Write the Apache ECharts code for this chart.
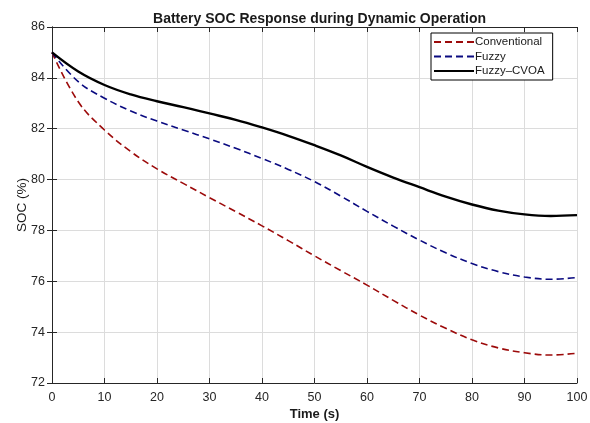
<!DOCTYPE html>
<html>
<head>
<meta charset="utf-8">
<script src="https://cdn.jsdelivr.net/npm/echarts@6/dist/echarts.min.js"></script>
<style>
  html, body { margin: 0; padding: 0; background: #fff; }
  #chart { width: 590px; height: 423px; }
</style>
</head>
<body>
<div id="chart"></div>
<script>
// Time samples (s)
const timeSec = [0, 5, 10, 15, 20, 25, 30, 35, 40, 45, 50, 55, 60, 65, 70, 75, 80, 85, 90, 95, 100];

// Battery state of charge (%) for each controller
const socConventional = [85, 83.06, 81.95, 81.1, 80.42, 79.85, 79.29, 78.74, 78.18, 77.6, 77.0, 76.42, 75.85, 75.25, 74.67, 74.15, 73.7, 73.38, 73.19, 73.1, 73.17];
const socFuzzy        = [85, 83.85, 83.2, 82.7, 82.3, 81.95, 81.6, 81.23, 80.83, 80.4, 79.92, 79.35, 78.75, 78.17, 77.62, 77.12, 76.7, 76.38, 76.17, 76.08, 76.15];
const socFuzzyCVOA    = [85, 84.25, 83.72, 83.35, 83.08, 82.85, 82.6, 82.35, 82.05, 81.72, 81.35, 80.95, 80.5, 80.08, 79.7, 79.33, 79.02, 78.78, 78.63, 78.57, 78.6];

// Axis ranges and tick spacing
const xMin = 0, xMax = 100, xStep = 10;
const yMin = 72, yMax = 86, yStep = 2;

const seriesNames = ['Conventional', 'Fuzzy', 'Fuzzy\u2013CVOA'];

const pairs = (ys) => timeSec.map((t, i) => [t, ys[i]]);

const axisColor = '#262626';
const gridColor = '#dcdcdc';
const font = 'Liberation Sans, Arial, Helvetica, sans-serif';

const chart = echarts.init(document.getElementById('chart'), null, { renderer: 'canvas' });

const boxAxis = {
  axisLine: { show: true, lineStyle: { color: axisColor, width: 1 } },
  axisTick: { show: true, inside: true, length: 5, lineStyle: { color: axisColor } },
  axisLabel: { show: false },
  splitLine: { show: false }
};

chart.setOption({
  animation: false,
  backgroundColor: '#fff',
  title: {
    text: 'Battery SOC Response during Dynamic Operation',
    left: 314.5,
    textAlign: 'center',
    top: 7,
    textStyle: { fontFamily: font, fontSize: 14, fontWeight: 'bold', color: '#1a1a1a' }
  },
  legend: {
    data: seriesNames,
    orient: 'vertical',
    left: 431,
    top: 33,
    width: 117,
    itemWidth: 40,
    itemHeight: 10,
    itemGap: 2.5,
    padding: [3, 8, 3, 2],
    borderColor: '#000',
    borderWidth: 1,
    backgroundColor: '#fff',
    itemStyle: { opacity: 0 },
    textStyle: { fontFamily: font, fontSize: 11.5, color: '#1a1a1a', padding: [0, 0, 0, -4] }
  },
  grid: { left: 52, top: 27, width: 525, height: 356, containLabel: false, outerBoundsMode: 'none' },
  xAxis: [
    {
      type: 'value', position: 'bottom', min: xMin, max: xMax, interval: xStep,
      name: 'Time (s)', nameLocation: 'middle', nameGap: 25, nameMoveOverlap: false,
      nameTextStyle: { fontFamily: font, fontSize: 13, fontWeight: 'bold', color: '#1a1a1a' },
      axisLine: { show: true, lineStyle: { color: axisColor, width: 1 } },
      axisTick: { show: true, inside: true, length: 5, lineStyle: { color: axisColor } },
      axisLabel: { fontFamily: font, fontSize: 12.5, color: '#262626', margin: 8 },
      splitLine: { show: true, lineStyle: { color: gridColor, width: 1 } }
    },
    Object.assign({ type: 'value', position: 'top', min: xMin, max: xMax, interval: xStep }, boxAxis)
  ],
  yAxis: [
    {
      type: 'value', position: 'left', min: yMin, max: yMax, interval: yStep,
      name: 'SOC (%)', nameLocation: 'middle', nameGap: 23, nameRotate: 90, nameMoveOverlap: false,
      nameTextStyle: { fontFamily: font, fontSize: 13.5, color: '#1a1a1a' },
      axisLine: { show: true, lineStyle: { color: axisColor, width: 1 } },
      axisTick: { show: true, inside: true, length: 5, lineStyle: { color: axisColor } },
      axisLabel: { fontFamily: font, fontSize: 12.5, color: '#262626', margin: 7 },
      splitLine: { show: true, lineStyle: { color: gridColor, width: 1 } }
    },
    Object.assign({ type: 'value', position: 'right', min: yMin, max: yMax, interval: yStep }, boxAxis)
  ],
  series: [
    {
      name: seriesNames[0], type: 'line', data: pairs(socConventional),
      smooth: 0.4, showSymbol: false, symbol: 'none',
      lineStyle: { color: '#9c0a0a', width: 1.6, type: [7, 4] },
      itemStyle: { color: '#9c0a0a' }
    },
    {
      name: seriesNames[1], type: 'line', data: pairs(socFuzzy),
      smooth: 0.4, showSymbol: false, symbol: 'none',
      lineStyle: { color: '#0a0a80', width: 1.6, type: [7, 4] },
      itemStyle: { color: '#0a0a80' }
    },
    {
      name: seriesNames[2], type: 'line', data: pairs(socFuzzyCVOA),
      smooth: 0.4, showSymbol: false, symbol: 'none',
      lineStyle: { color: '#000', width: 2.4 },
      itemStyle: { color: '#000' }
    }
  ]
});
</script>
</body>
</html>
